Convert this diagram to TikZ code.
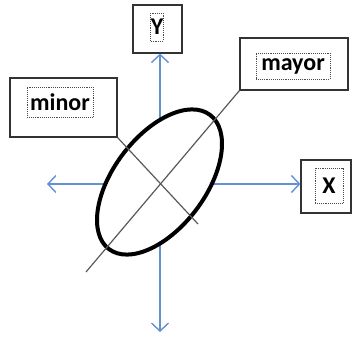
\documentclass[tikz,border=0pt]{standalone}
\usepackage{fontspec}
\setmainfont{Carlito}
\usetikzlibrary{arrows.meta}
\definecolor{axisblue}{RGB}{100,145,210}
\tikzset{
  labelbox/.style={shape=rectangle,draw=black!80,line width=1.2pt,fill=white,inner sep=0},
  labeltext/.style={shape=rectangle,draw=black!70,densely dotted,line width=0.9pt,inner sep=0,
    font=\fontsize{24}{27}\selectfont\bfseries},
  axis/.style={draw=axisblue,line width=1.4pt,-{Straight Barb[length=8pt,width=17pt,line width=1.4pt]}},
  guide/.style={draw=black!65,line width=1.2pt},
  orbit/.style={draw=black,line width=4pt,fill=white}
}

\begin{document}
\begin{tikzpicture}[x=1pt,y=-1pt]
  \useasboundingbox (0,0) rectangle (352,336);
  \coordinate (o) at (160,184);

  % boxes with their labels
  \node[labelbox,minimum width=49pt,minimum height=48pt] (ybox) at (157.5,29) {};
  \node[labeltext,minimum width=12pt,minimum height=28pt] (ylab) at (157,27) {Y};
  \node[labelbox,minimum width=107pt,minimum height=59pt] (minorbox) at (63.5,107.5) {};
  \node[labeltext,minimum width=66pt,minimum height=30pt] (minorlab) at (60,102) {minor};
  \node[labelbox,minimum width=108pt,minimum height=52pt] (mayorbox) at (294,64) {};
  \node[labeltext,minimum width=74pt,minimum height=26pt] (mayorlab) at (293,66) {mayor};
  \node[labelbox,minimum width=50pt,minimum height=53pt] (xbox) at (326,186.5) {};
  \node[labeltext,minimum width=28pt,minimum height=35pt] (xlab) at (329,185.5) {X};

  % axes
  \coordinate (xl) at (47,184);
  \coordinate (yb) at (160,332);
  \draw[axis] (o) -- (o |- ybox.south);
  \draw[axis] (o) -- (o -| xbox.west);
  \draw[axis] (o) -- (xl);
  \draw[axis] (o) -- (yb);

  % ellipse and its axes
  \draw[orbit] (159.5,182) ellipse [x radius=84pt,y radius=46pt,rotate=53];
  \coordinate (majend) at (86,272);
  \coordinate (minend) at (198,224);
  \draw[guide] (majend) -- (mayorbox.south west);
  \draw[guide] (minorbox.south east) -- (minend);
\end{tikzpicture}
\end{document}
